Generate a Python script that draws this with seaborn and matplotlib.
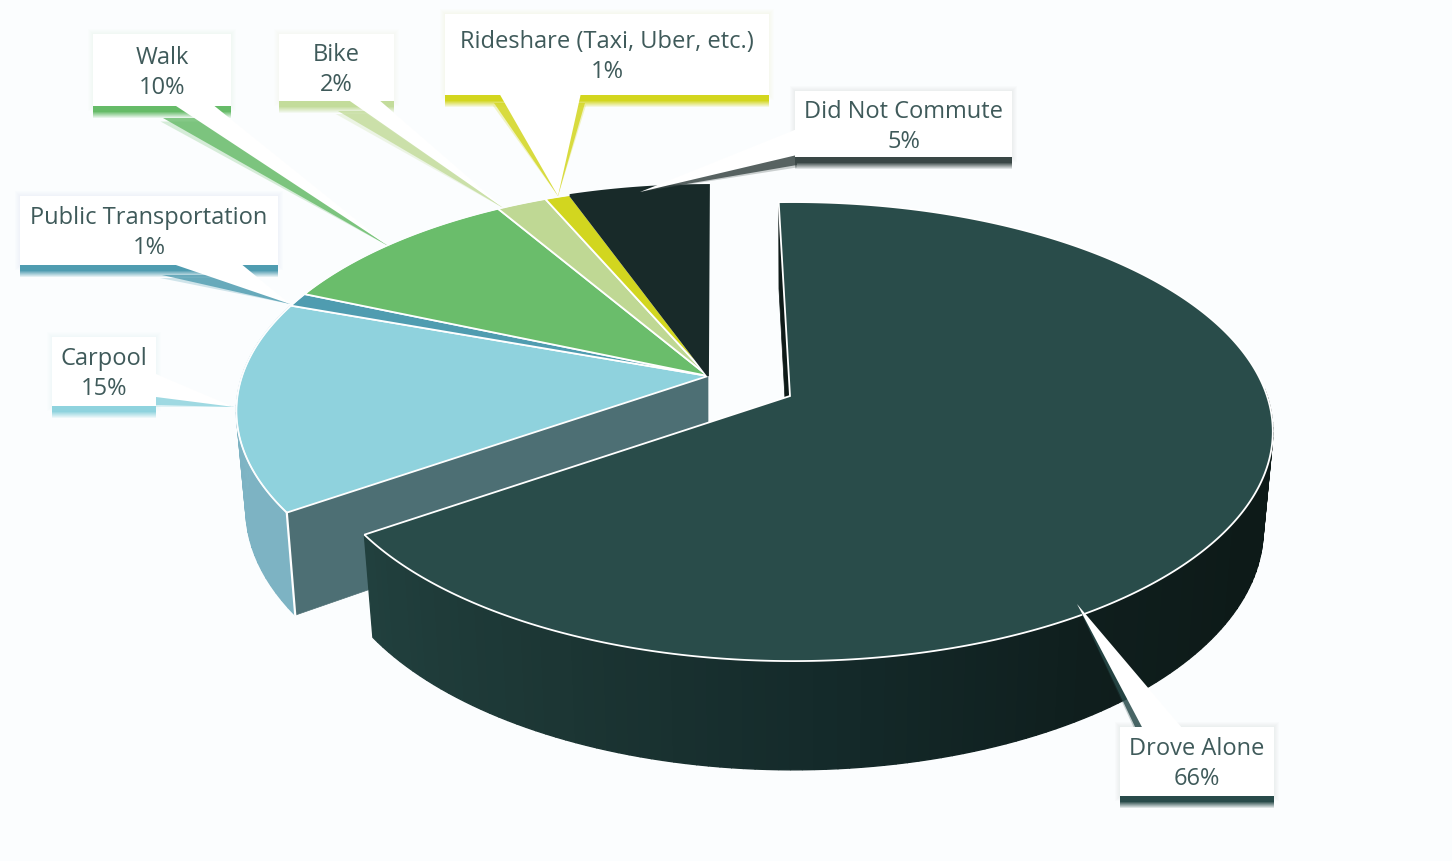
import numpy as np
import matplotlib
matplotlib.use("Agg")
import matplotlib.pyplot as plt
import seaborn as sns
from matplotlib.patches import Polygon, Rectangle

# commute shares, clockwise from the top
categories = ["Drove Alone", "Carpool", "Public Transportation", "Walk", "Bike",
              "Rideshare (Taxi, Uber, etc.)", "Did Not Commute"]
shares = [66, 15, 1, 10, 2, 1, 5]

top_colors = ["#294c4a", "#8fd2dd", "#4f9cb0", "#6abd6b", "#bfd894", "#d2d61f", "#182a29"]
shadow_colors = ["#294b4a", "#8fd3de", "#4f9cb0", "#66bb68", "#c3dc9b", "#d3d61e", "#3a4746"]

sns.set_theme(style="white")
plt.rcParams["font.family"] = ["Open Sans", "DejaVu Sans"]

BG = "#fbfdfe"
TEXT = "#3f5a5a"

fig = plt.figure(figsize=(14.52, 8.62), dpi=100, facecolor=BG)
ax = fig.add_axes([0, 0, 1, 1])
ax.set_xlim(0, 1452)
ax.set_ylim(862, 0)
ax.axis("off")

# tilted disc, near side bigger than far side
RX, RY, PERSP = 474, 224, 0.155
SX, SY, DEPTH = 0.98, 1.048, 96


def rim(theta, center, scale=1.0):
    t = np.radians(theta)
    x, y = np.sin(t), np.cos(t)
    f = 1 + PERSP * y
    return center[0] + scale * RX * x / f, center[1] - scale * RY * y / f


def lower(px, py, center):
    return center[0] + SX * (px - center[0]), center[1] + SY * (py - center[1]) + DEPTH


def side_wall(t0, t1, center, colors, scale=1.0):
    # outer wall as narrow strips so it can carry a gradient
    edges = np.linspace(t0, t1, len(colors) + 1)
    for a, b, col in zip(edges[:-1], edges[1:], colors):
        ts = np.linspace(a, b, 4)
        up = [rim(t, center, scale) for t in ts]
        lo = [lower(p[0], p[1], center) for p in up]
        ax.add_patch(Polygon(up + lo[::-1], closed=True, fc=col, ec=col, lw=1.0))


def wedge_pts(t0, t1, apex, center, scale=1.0):
    ts = np.linspace(t0, t1, max(int(abs(t1 - t0)) * 2, 6))
    return [apex] + [rim(t, center, scale) for t in ts]


def cut_face(p, apex, center, color):
    ax.add_patch(Polygon([apex, p, lower(*p, center), lower(*apex, center)],
                         closed=True, fc=color, ec=color, lw=0.5))


drove_apex = (790, 397)
drove_c = (793, 397)
rest_apex = (708, 377)
rest_c = (709, 377)
REST_SCALE = 0.985
start = -2.0
angles = np.cumsum([0] + [s * 3.6 for s in shares]) + start
angles[-1] = 360  # back group closes on the vertical

# the group that stays behind
car0, car1 = angles[1], angles[2]
side_wall(car0, car1, rest_c, sns.blend_palette(["#7db3c3", "#7db3c3", "#86bccb"], 30), REST_SCALE)
p = rim(car0, rest_c, REST_SCALE)
cut_face(p, rest_apex, rest_c, "#4d6f74")
ax.plot([p[0], lower(*p, rest_c)[0]], [p[1], lower(*p, rest_c)[1]], color="white", lw=1.6)
for i in range(1, len(shares)):
    ax.add_patch(Polygon(wedge_pts(angles[i], angles[i + 1], rest_apex, rest_c, REST_SCALE), closed=True,
                         fc=top_colors[i], ec="white" if i < 6 else top_colors[i], lw=1.3))
# take the white outline off the outer rim
ts = np.linspace(angles[1], angles[-2], 300)
ax.plot(*zip(*[rim(t, rest_c, REST_SCALE) for t in ts]), color=BG, lw=0.8)

# exploded slice
d0, d1 = angles[0], angles[1]
cut_face(rim(d0, drove_c), drove_apex, drove_c, "#0e1a18")
side_wall(d1, d0 + 90, drove_c,
          sns.blend_palette(["#21403e", "#1c3634", "#142a2a", "#0f1e1d", "#0d1a18", "#0d1a18"], 120))
ax.add_patch(Polygon(wedge_pts(d0, d1, drove_apex, drove_c), closed=True,
                     fc=top_colors[0], ec="white", lw=1.3))

# label boxes: x0, y0, x1, y1
boxes = [(1120, 728, 1274, 797), (52, 338, 156, 407), (20, 197, 278, 266), (93, 35, 231, 107),
         (279, 35, 394, 102), (445, 15, 769, 96), (795, 92, 1012, 158)]
# leader triangles: base point, base point, tip, shadow offset of each base point
leaders = [((1143, 730), (1183, 730), (1077, 605), (-6, 2), (-6, 2)),
           ((156, 375), (156, 398), (234, 408), (0, 8), (0, 8)),
           ((170, 264), (240, 264), (290, 305), (-8, 12), (-8, 12)),
           ((173, 105), (212, 105), (390, 248), (-10, 14), (-10, 14)),
           ((347, 100), (378, 100), (505, 210), (-9, 12), (-9, 12)),
           ((499, 94), (581, 94), (558, 197), (-5, 10), (4, 10)),
           ((797, 130), (797, 156), (640, 193), (0, 10), (0, 10))]

for name, share, box, lead, col in zip(categories, shares, boxes, leaders, shadow_colors):
    x0, y0, x1, y1 = box
    # soft glow round the box
    for grow in np.arange(5, 0, -1):
        ax.add_patch(Rectangle((x0 - grow, y0 - grow), x1 - x0 + 2 * grow, y1 - y0 + 2 * grow,
                               fc=col, ec="none", alpha=0.012))
    # band under the box, fading out
    for k in range(12):
        alpha = 1.0 if k < 6 else 1.0 - (k - 5) / 7
        ax.add_patch(Rectangle((x0, y1 + k), x1 - x0, 1, fc=col, ec="none", alpha=alpha))
    b0, b1, tip, off0, off1 = lead
    for k, alpha in [(1.25, 0.25), (1.0, 0.8)]:
        ax.add_patch(Polygon([(b0[0] + off0[0] * k, b0[1] + off0[1] * k),
                              (b1[0] + off1[0] * k, b1[1] + off1[1] * k), tip],
                             closed=True, fc=col, ec="none", alpha=alpha))
    ax.add_patch(Polygon([b0, b1, tip], closed=True, fc="white", ec="none"))
    ax.add_patch(Rectangle((x0, y0), x1 - x0, y1 - y0, fc="white", ec="none"))
    cx, cy = (x0 + x1) / 2, (y0 + y1) / 2
    ax.text(cx, cy - 13.5, name, ha="center", va="center", fontsize=17, color=TEXT)
    ax.text(cx, cy + 16.5, f"{share}%", ha="center", va="center", fontsize=17, color=TEXT)

fig.savefig("out.png", dpi=100, facecolor=BG)
